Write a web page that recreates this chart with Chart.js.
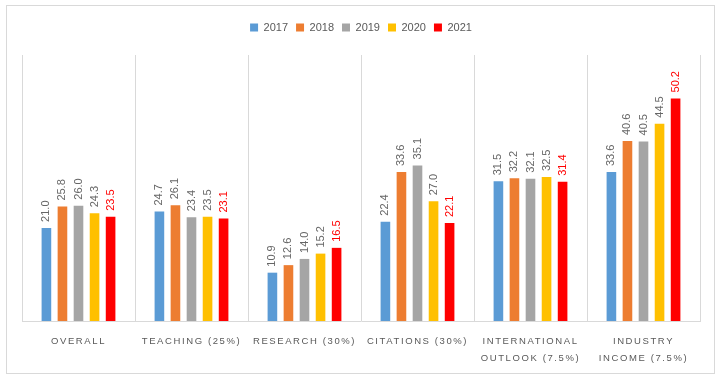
<!DOCTYPE html>
<html>
<head>
<meta charset="utf-8">
<script src="https://cdn.jsdelivr.net/npm/chart.js@4/dist/chart.umd.min.js"></script>
<style>
html,body{margin:0;padding:0;background:#fff;}
#wrap{position:relative;width:721px;height:380px;}
</style>
</head>
<body>
<div id="wrap"><canvas id="c" width="721" height="380"></canvas></div>
<script>
const categories = [
  'OVERALL',
  'TEACHING (25%)',
  'RESEARCH (30%)',
  'CITATIONS (30%)',
  ['INTERNATIONAL', 'OUTLOOK (7.5%)'],
  ['INDUSTRY', 'INCOME (7.5%)']
];
const seriesNames = ['2017', '2018', '2019', '2020', '2021'];
const v2017 = [21.0, 24.7, 10.9, 22.4, 31.5, 33.6];
const v2018 = [25.8, 26.1, 12.6, 33.6, 32.2, 40.6];
const v2019 = [26.0, 23.4, 14.0, 35.1, 32.1, 40.5];
const v2020 = [24.3, 23.5, 15.2, 27.0, 32.5, 44.5];
const v2021 = [23.5, 23.1, 16.5, 22.1, 31.4, 50.2];
const colors = ['#5b9bd5', '#ed7d31', '#a5a5a5', '#ffc000', '#ff0000'];
const labelColors = ['#666666', '#666666', '#666666', '#666666', '#ff0000'];

const allValues = [v2017, v2018, v2019, v2020, v2021];
const FONT = "'Liberation Sans', Arial, sans-serif";

const frame = {
  id: 'frame',
  beforeDraw(chart) {
    const ctx = chart.ctx;
    ctx.save();
    ctx.strokeStyle = '#d9d9d9';
    ctx.lineWidth = 1;
    ctx.strokeRect(6.5, 5.5, 708, 368);
    ctx.restore();
  }
};

const legendGap = {
  id: 'legendGap',
  afterInit(chart) {
    const lg = chart.legend;
    if (lg && !lg._patched) {
      const f = lg.fit;
      lg.fit = function () { f.call(this); this.height += 12; };
      lg._patched = true;
    }
  }
};

const spacedTicks = {
  id: 'spacedTicks',
  afterLayout(chart) {
    const sc = chart.scales.x;
    if (sc && !sc._patched) {
      const orig = sc.drawLabels;
      sc.drawLabels = function (area) {
        const ctx = this.ctx;
        ctx.save();
        ctx.letterSpacing = '1.6px';
        orig.call(this, area);
        ctx.restore();
      };
      sc._patched = true;
    }
  }
};

const valueLabels = {
  id: 'valueLabels',
  afterDatasetsDraw(chart) {
    const ctx = chart.ctx;
    ctx.save();
    ctx.font = '11px ' + FONT;
    ctx.textAlign = 'left';
    ctx.textBaseline = 'middle';
    chart.data.datasets.forEach((ds, i) => {
      const meta = chart.getDatasetMeta(i);
      meta.data.forEach((bar, j) => {
        ctx.save();
        ctx.fillStyle = labelColors[i];
        ctx.translate(bar.x, bar.y - 6);
        ctx.rotate(-Math.PI / 2);
        ctx.fillText(ds.data[j].toFixed(1), 0, 0);
        ctx.restore();
      });
    });
    ctx.restore();
  }
};

new Chart(document.getElementById('c'), {
  type: 'bar',
  data: {
    labels: categories,
    datasets: seriesNames.map((n, i) => ({
      label: n,
      data: allValues[i],
      backgroundColor: colors[i],
      borderWidth: 0,
      categoryPercentage: 0.71,
      barPercentage: 0.6
    }))
  },
  options: {
    responsive: false,
    animation: false,
    devicePixelRatio: 1,
    layout: { padding: { left: 22, right: 21, top: 14, bottom: 0 } },
    plugins: {
      legend: {
        position: 'top',
        labels: {
          boxWidth: 8,
          boxHeight: 8,
          padding: 8,
          color: '#595959',
          font: { size: 11, family: FONT }
        }
      },
      tooltip: { enabled: false }
    },
    scales: {
      x: {
        offset: true,
        grid: {
          display: true,
          offset: true,
          color: '#d9d9d9',
          drawTicks: false
        },
        border: { display: true, color: '#d9d9d9' },
        ticks: {
          color: '#595959',
          padding: 12,
          maxRotation: 0,
          autoSkip: false,
          font: { size: 9.5, family: FONT, lineHeight: 1.8 }
        },
        afterFit(scale) { scale.height = 59; }
      },
      y: {
        display: false,
        min: 0,
        max: 60
      }
    }
  },
  plugins: [frame, legendGap, spacedTicks, valueLabels]
});
</script>
</body>
</html>
